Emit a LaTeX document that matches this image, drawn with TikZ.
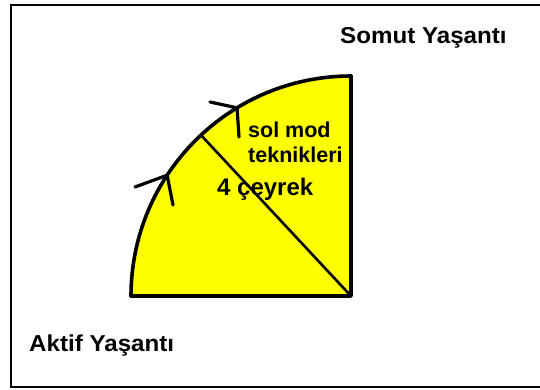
\documentclass[tikz,border=0pt]{standalone}
\usepackage{fontspec}
\setmainfont{Liberation Sans}
\usetikzlibrary{calc}
\definecolor{fillyel}{HTML}{FFFF00}
\tikzset{
  lbl/.style={inner sep=0pt, font=\bfseries\fontsize{23}{27}\selectfont, xscale=1.05},
  inlbl/.style={inner sep=0pt, font=\bfseries\fontsize{21.5}{25}\selectfont},
  sideline/.style={line width=3.6pt, line cap=round, line join=round},
  arrowmark/.style={line width=3.2pt, line cap=round, line join=round}
}
\begin{document}
\begin{tikzpicture}[x=1pt,y=1pt]
\useasboundingbox (0,0) rectangle (540,-389);
\draw[line width=2pt] (11,-5) rectangle (541,-387);
\coordinate (C) at (351,-296);
\coordinate (L) at (131,-296);
\coordinate (T) at (351,-76);
\coordinate (D) at ($(C)+(133:220)$);
\coordinate (A1) at ($(C)+(146.7:220)$);
\coordinate (A2) at ($(C)+(121.2:220)$);
\fill[fillyel] (C) -- (L) arc[start angle=180,end angle=90,radius=220] -- cycle;
\draw[sideline] (L) arc[start angle=180,end angle=90,radius=220];
\draw[sideline] (T) -- (C) -- (L);
\draw[line width=2.6pt] (C) -- (D);
\coordinate (A1a) at (135,-187);
\coordinate (A1b) at (173,-205);
\coordinate (A2a) at (210,-102);
\coordinate (A2b) at (239,-137);
\draw[arrowmark] (A1a) -- (A1) -- (A1b);
\draw[arrowmark] (A2a) -- (A2) -- (A2b);
\node[lbl, anchor=base west] (somut) at (340,-43) {Somut Yaşantı};
\node[lbl, anchor=base west] (aktif) at (29,-351) {Aktif Yaşantı};
\node[inlbl, anchor=base west] (sol) at (248,-137) {sol mod};
\node[inlbl, anchor=base west] (tek) at (248,-162) {teknikleri};
\node[inlbl, anchor=base west, font=\bfseries\fontsize{24}{28}\selectfont] (cey) at (217,-195) {4 çeyrek};
\end{tikzpicture}
\end{document}
